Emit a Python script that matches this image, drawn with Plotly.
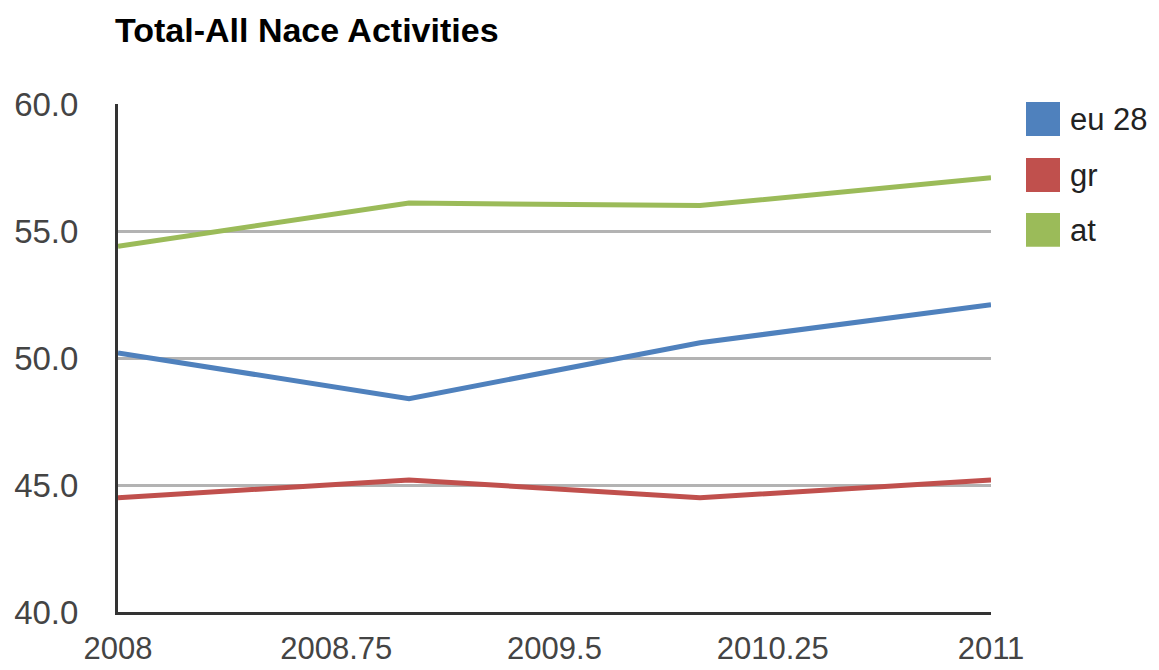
import plotly.graph_objects as go

years = [2008, 2009, 2010, 2011]
series_names = ["eu 28", "gr", "at"]
eu28 = [50.2, 48.4, 50.6, 52.1]
gr = [44.5, 45.2, 44.5, 45.2]
at = [54.4, 56.1, 56.0, 57.1]
colors = ["#4f81bd", "#c0504d", "#9bbb59"]
x_tickvals = [2008, 2008.75, 2009.5, 2010.25, 2011]
x_ticktext = ["2008", "2008.75", "2009.5", "2010.25", "2011"]
y_tickvals = [40, 45, 50, 55, 60]

# page body has an 8px margin, so the figure is drawn offset by 8px
OFF = 8
W, H = 1159 - OFF, 670 - OFF
L, T = 118 - OFF, 104 - OFF
R = W - (991 - OFF)
B = H - (612.5 - OFF)
pw, ph = W - L - R, H - T - B

FONT = "Liberation Sans, Arial, sans-serif"

fig = go.Figure()
for name, vals, col in zip(series_names, [eu28, gr, at], colors):
    fig.add_trace(go.Scatter(x=years, y=vals, mode="lines", name=name,
                             line=dict(color=col, width=5), showlegend=False))

# legend drawn as squares + labels (page pixel positions converted to paper coords)
def px(x):
    return (x - OFF - L) / pw

def py(y):
    return 1 - (y - OFF - T) / ph

shapes = []
annotations = []
leg_tops = [102, 158, 213]
for name, col, top in zip(series_names, colors, leg_tops):
    shapes.append(dict(type="rect", xref="paper", yref="paper",
                       x0=px(1026), x1=px(1060), y0=py(top + 34), y1=py(top),
                       fillcolor=col, line=dict(width=0)))
    annotations.append(dict(xref="paper", yref="paper", x=px(1068), y=py(top + 18),
                            xanchor="left", yanchor="middle", text=name, showarrow=False,
                            font=dict(family=FONT, size=31, color="#222222")))

fig.update_layout(
    width=W, height=H,
    margin=dict(l=L, r=R, t=T, b=B, pad=0, autoexpand=False),
    paper_bgcolor="white", plot_bgcolor="white",
    title=dict(text="<b>Total-All Nace Activities</b>", x=(115 - OFF) / W, xanchor="left",
               y=1 - (30 - OFF) / H, yanchor="middle",
               font=dict(family=FONT, size=34, color="#000000")),
    xaxis=dict(range=[2008, 2011], tickvals=x_tickvals, ticktext=x_ticktext,
               showgrid=False, zeroline=False, showline=True, linecolor="#333333",
               linewidth=3, ticks="", ticklabelstandoff=7, automargin=False,
               tickfont=dict(family=FONT, size=31, color="#444444")),
    yaxis=dict(range=[40, 60], tickvals=y_tickvals, tickformat=".1f",
               showgrid=True, gridcolor="#b3b3b3", gridwidth=3, zeroline=False,
               showline=True, linecolor="#333333", linewidth=3, ticks="",
               ticklabelstandoff=30, automargin=False,
               tickfont=dict(family=FONT, size=33, color="#444444")),
    shapes=shapes,
    annotations=annotations,
    showlegend=False,
)

fig.write_html("out.html")
